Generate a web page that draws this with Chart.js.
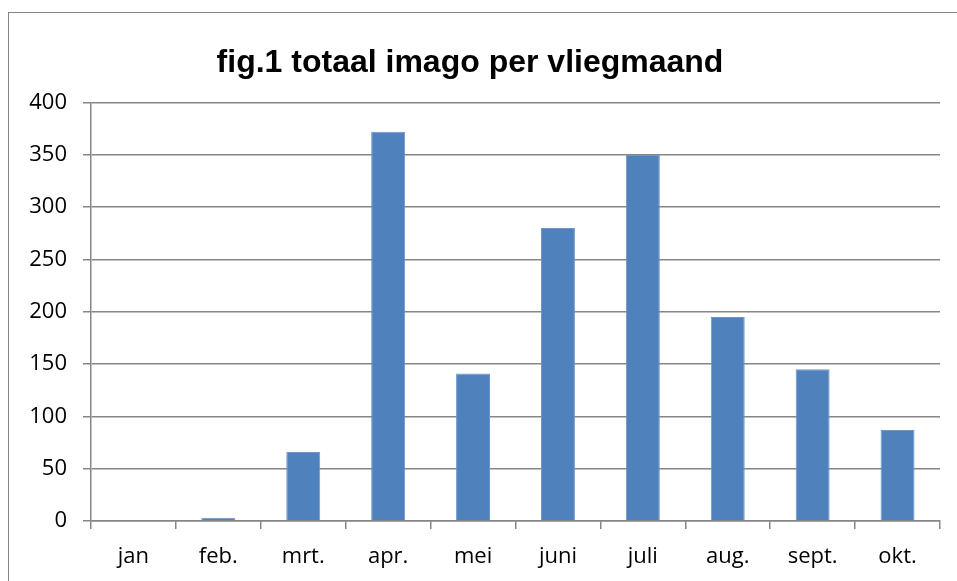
<!DOCTYPE html>
<html>
<head>
<meta charset="utf-8">
<script src="https://cdn.jsdelivr.net/npm/chart.js@4.4.0/dist/chart.umd.min.js"></script>
<style>
  html, body { margin: 0; padding: 0; background: #fff; overflow: hidden; }
  #frame {
    position: absolute; left: 8px; top: 12px;
    width: 2000px; height: 2000px;
    border-left: 1px solid #868686; border-top: 1px solid #868686;
  }
  #chart { position: absolute; left: 0; top: 0; }
</style>
</head>
<body>
<div id="frame"></div>
<canvas id="chart" width="957" height="581"></canvas>
<script>
// months (Dutch labels as in the source figure)
var months = ['jan', 'feb.', 'mrt.', 'apr.', 'mei', 'juni', 'juli', 'aug.', 'sept.', 'okt.'];
// total imago counts per flight month
var imagoTotals = [1, 3, 66, 372, 141, 280, 350, 195, 145, 87];
var yTicks = [0, 50, 100, 150, 200, 250, 300, 350, 400];

var gridColor = '#868686';
var tickFont = { family: 'Open Sans', size: 22 };

new Chart(document.getElementById('chart').getContext('2d'), {
    type: 'bar',
    data: {
        labels: months,
        datasets: [{
            label: 'totaal imago',
            data: imagoTotals,
            backgroundColor: '#4F81BD',
            borderColor: '#7096C6',
            borderWidth: 1,
            barPercentage: 0.4,
            categoryPercentage: 1.0
        }]
    },
    options: {
        responsive: false,
        animation: false,
        layout: { padding: { left: 0, right: 17, top: 0, bottom: 0 } },
        scales: {
            x: {
                afterFit: function (scale) { scale.height = 60; },
                grid: {
                    display: true,
                    drawOnChartArea: false,
                    drawTicks: true,
                    tickLength: 8,
                    color: gridColor,
                    lineWidth: 1.5,
                    offset: true
                },
                border: { display: true, color: gridColor, width: 1.5 },
                ticks: { color: '#000', font: tickFont, padding: 15 }
            },
            y: {
                min: 0,
                max: yTicks[yTicks.length - 1],
                afterFit: function (scale) { scale.width = 91; },
                afterBuildTicks: function (scale) {
                    scale.ticks = yTicks.map(function (v) { return { value: v }; });
                },
                grid: { color: gridColor, tickLength: 8, lineWidth: 1.5 },
                border: { display: true, color: gridColor, width: 1.5 },
                ticks: { color: '#000', font: tickFont, padding: 16 }
            }
        },
        plugins: {
            legend: { display: false },
            tooltip: { enabled: false },
            title: {
                display: true,
                text: 'fig.1 totaal imago per vliegmaand',
                color: '#000',
                font: { family: 'Liberation Sans', weight: 'bold', size: 32 },
                padding: { top: 44, bottom: 20 }
            }
        }
    }
});
</script>
</body>
</html>
